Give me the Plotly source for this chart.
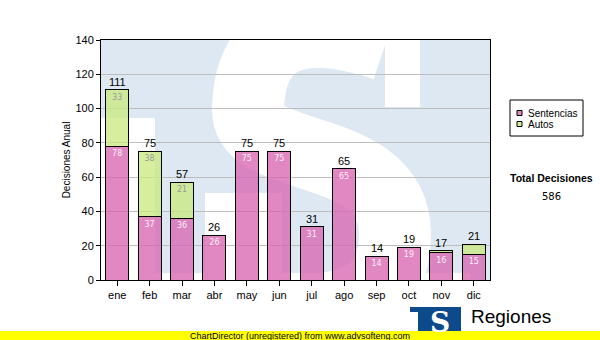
import plotly.graph_objects as go

# Monthly decisions, split by type
meses = ["ene", "feb", "mar", "abr", "may", "jun", "jul", "ago", "sep", "oct", "nov", "dic"]
sentencias = [78, 37, 36, 26, 75, 75, 31, 65, 14, 19, 16, 15]
autos = [33, 38, 21, 0, 0, 0, 0, 0, 0, 0, 1, 6]
y_ticks = [0, 20, 40, 60, 80, 100, 120, 140]

serie_1 = "Sentencias"
serie_2 = "Autos"

totales = [s + a for s, a in zip(sentencias, autos)]
total_decisiones = sum(totales)

PINK = "rgba(216,98,176,0.76)"
GREEN = "rgba(202,232,128,0.76)"
BG_BLUE = "#dee8f2"

# plot area in pixels (600x340 canvas)
L, R, T, B = 101, 490, 40, 280
W, H = 600, 340


def px_x(px):
    """pixel column -> category-axis coordinate"""
    return (px - L) / (R - L) * len(meses) - 0.5


def px_y(py):
    """pixel row -> value-axis coordinate"""
    return (B - py) / (B - T) * 140


def pap_x(px):
    return (px - L) / (R - L)


def pap_y(py):
    return (B - py) / (B - T)


def path_from_px(cmds):
    out = []
    for c in cmds:
        if isinstance(c, str):
            out.append(c)
        else:
            out.append(f"{px_x(c[0]):.4f},{px_y(c[1]):.4f}")
    return " ".join(out)


def note(px, py, text, size, family="Liberation Sans, Arial", color="black", xanchor="center"):
    return dict(x=pap_x(px), y=pap_y(py), xref="paper", yref="paper", text=text,
                showarrow=False, xanchor=xanchor, yanchor="middle",
                font=dict(family=family, size=size, color=color))


fig = go.Figure()

fig.add_trace(go.Bar(
    x=meses, y=sentencias, name=serie_1,
    marker=dict(color=PINK, line=dict(color="black", width=1)),
    text=[str(v) for v in sentencias],
    textposition="inside", insidetextanchor="end", textangle=0,
    insidetextfont=dict(family="DejaVu Sans", size=8, color="#fbeef7"),
    showlegend=False, hoverinfo="x+y+name",
))
fig.add_trace(go.Bar(
    x=meses, y=autos, name=serie_2,
    marker=dict(color=GREEN, line=dict(color="black", width=1)),
    text=[str(v) if v >= 10 else "" for v in autos],
    textposition="inside", insidetextanchor="end", textangle=0,
    insidetextfont=dict(family="DejaVu Sans", size=8, color="#9a9a9a"),
    showlegend=False, hoverinfo="x+y+name",
))

annotations = []
# totals above each stacked bar
for m, t in zip(meses, totales):
    annotations.append(dict(
        x=m, y=t, xref="x", yref="y", text=str(t), showarrow=False,
        xanchor="center", yanchor="bottom", yshift=0,
        font=dict(family="Liberation Sans, Arial", size=11, color="black"),
    ))

shapes = []
# watermark logo behind the bars (clipped to the plot area)
wm = dict(xref="x", yref="y", layer="below", line=dict(width=0), fillcolor="white")
shapes.append(dict(type="rect", x0=px_x(90), x1=px_x(155), y0=px_y(118), y1=px_y(300), **wm))
shapes.append(dict(type="rect", x0=px_x(90), x1=px_x(470), y0=px_y(273), y1=px_y(300), **wm))
shapes.append(dict(type="rect", x0=px_x(385), x1=px_x(420), y0=px_y(20), y1=px_y(107), **wm))
shapes.append(dict(type="rect", x0=px_x(205), x1=px_x(282), y0=px_y(193), y1=px_y(300), **wm))
shapes.append(dict(
    type="path", xref="x", yref="y", layer="below",
    path=path_from_px(["M", (385, 45), "Q", (250, 0), (248, 110),
                       "C", (248, 165), (395, 140), (395, 235),
                       "Q", (395, 310), (300, 310), "L", (240, 310)]),
    line=dict(color="white", width=72),
))

# legend box
shapes.append(dict(type="rect", xref="paper", yref="paper",
                   x0=pap_x(510), x1=pap_x(583), y0=pap_y(136), y1=pap_y(100),
                   line=dict(color="black", width=1), fillcolor="white"))
for (name, col, cy) in [(serie_1, PINK, 113), (serie_2, GREEN, 124)]:
    shapes.append(dict(type="rect", xref="paper", yref="paper",
                       x0=pap_x(517), x1=pap_x(522), y0=pap_y(cy + 2.5), y1=pap_y(cy - 2.5),
                       line=dict(color="black", width=1), fillcolor=col))
    annotations.append(note(526, cy + 0.5, name, 10, xanchor="left"))

# total counter
annotations.append(note(551, 178, "<b>Total Decisiones</b>", 10.5))
annotations.append(note(551, 196, str(total_decisiones), 10, family="DejaVu Sans"))

# footer logo
shapes.append(dict(type="rect", xref="paper", yref="paper", layer="above",
                   x0=pap_x(410), x1=pap_x(461), y0=pap_y(345), y1=pap_y(307),
                   line=dict(width=0), fillcolor="#0d4a8c"))
shapes.append(dict(type="rect", xref="paper", yref="paper", layer="above",
                   x0=pap_x(410), x1=pap_x(418), y0=pap_y(345), y1=pap_y(312),
                   line=dict(width=0), fillcolor="white"))
annotations.append(note(440, 322, "<b>S</b>", 28, family="DejaVu Serif", color="white"))
annotations.append(note(469, 316, "Regiones", 19, xanchor="left"))

# unregistered banner
shapes.append(dict(type="rect", xref="paper", yref="paper", layer="above",
                   x0=pap_x(-5), x1=pap_x(605), y0=pap_y(345), y1=pap_y(331),
                   line=dict(width=0), fillcolor="#ffff00"))
annotations.append(note(300, 335.5, "ChartDirector (unregistered) from www.advsofteng.com", 9))

fig.update_layout(
    width=W, height=H,
    margin=dict(l=L, r=W - R, t=T, b=H - B, pad=0),
    paper_bgcolor="white", plot_bgcolor=BG_BLUE,
    barmode="stack", bargap=0.29,
    showlegend=False,
    shapes=shapes, annotations=annotations,
    font=dict(family="Liberation Sans, Arial", size=11, color="black"),
)
fig.update_xaxes(
    type="category", range=[-0.5, len(meses) - 0.5],
    showline=True, linecolor="black", linewidth=1, mirror=True,
    ticks="outside", ticklen=5, tickcolor="black",
    showgrid=False, tickfont=dict(family="Liberation Sans, Arial", size=11, color="black"),
)
fig.update_yaxes(
    range=[0, 140], tickvals=y_ticks,
    showline=True, linecolor="black", linewidth=1, mirror=True,
    ticks="outside", ticklen=4, tickcolor="black",
    showgrid=True, gridcolor="#bdbdbd", gridwidth=1, zeroline=False,
    tickfont=dict(family="Liberation Sans, Arial", size=11, color="black"),
    title=dict(text="Decisiones Anual", standoff=2,
               font=dict(family="Liberation Sans, Arial", size=10, color="black")),
)

fig.write_html("out.html")
